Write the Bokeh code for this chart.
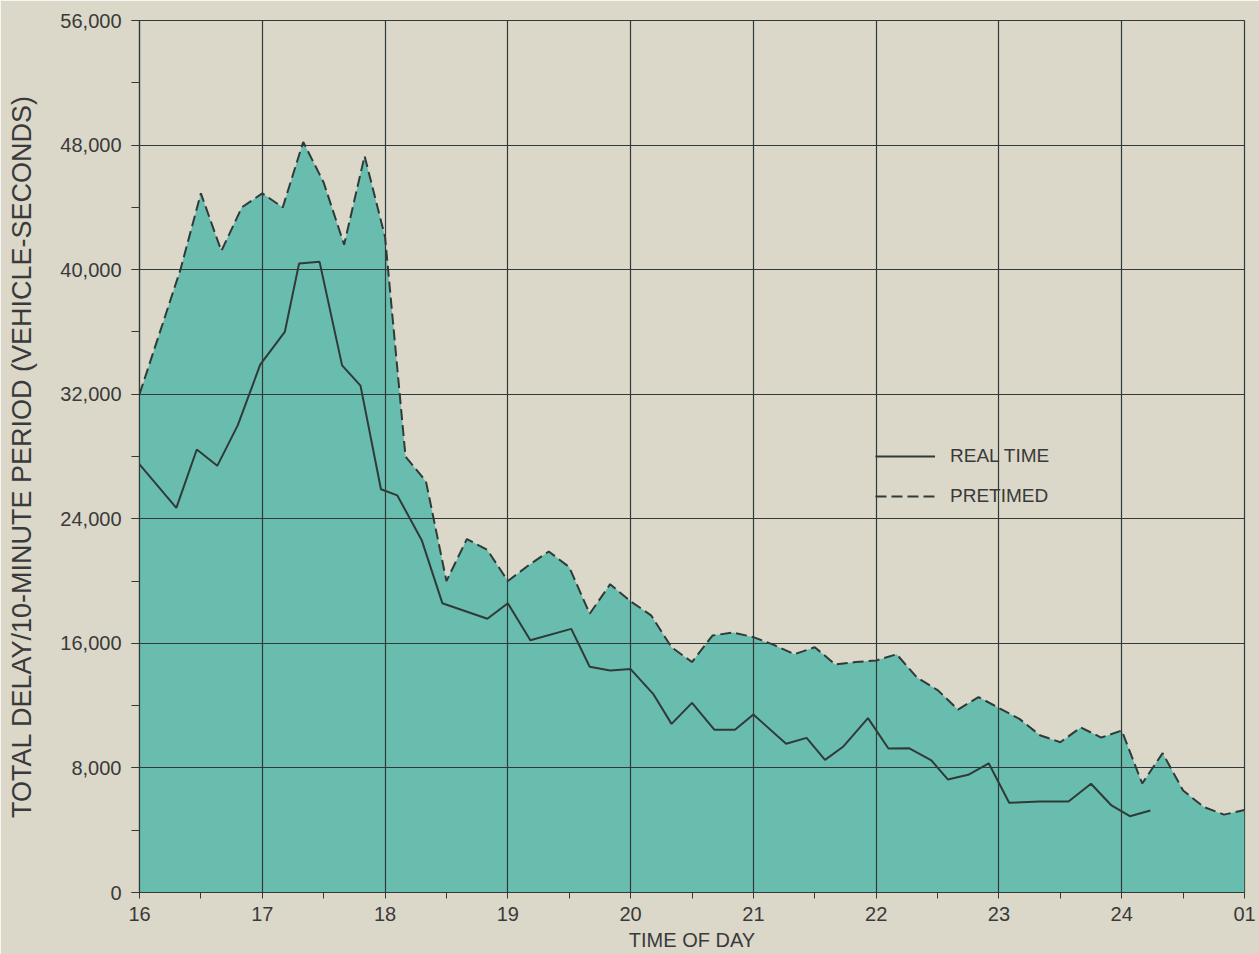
from bokeh.plotting import figure
from bokeh.models import SingleIntervalTicker, Legend, LegendItem, Range1d
from bokeh.embed import file_html
from bokeh.resources import INLINE

# Total delay per 10-minute period (vehicle-seconds), pretimed control,
# sampled every 10 minutes from 16:00 to 01:00
pretimed_delay = [
    32000, 36000, 40000, 44900, 41200, 44000, 44900, 44000, 48200, 45600,
    41600, 47300, 42100, 28000, 26400, 20000, 22700, 22000, 20000, 21000,
    21900, 20900, 17900, 19800, 18700, 17800, 15750, 14800, 16500, 16700,
    16400, 15900, 15300, 15750, 14650, 14800, 14900, 15300, 13800, 13000,
    11750, 12550, 11850, 11150, 10100, 9650, 10600, 9950, 10400, 7000,
    8950, 6550, 5500, 5000, 5300,
]
pretimed_minutes = list(range(0, 550, 10))

# Real-time control: minutes after 16:00 and total delay
realtime_minutes = [
    0, 18, 28, 38, 48, 59, 71, 78, 88, 99, 108, 118, 126, 138, 148, 170,
    180, 191, 211, 220, 230, 240, 251, 260, 270, 281, 291, 300, 316, 326,
    335, 344, 356, 366, 376, 387, 395, 405, 415, 425, 440, 454, 465, 475,
    484, 494,
]
realtime_delay = [
    27500, 24700, 28450, 27400, 30000, 33900, 36000, 40400, 40500, 33850,
    32550, 25900, 25500, 22600, 18580, 17580, 18580, 16200, 16930, 14500,
    14250, 14350, 12760, 10830, 12180, 10450, 10450, 11430, 9550, 9930,
    8520, 9380, 11200, 9250, 9270, 8480, 7260, 7560, 8300, 5760, 5850,
    5840, 6980, 5590, 4900, 5270,
]

hour_ticks = [16, 17, 18, 19, 20, 21, 22, 23, 24, 25]
hour_labels = ["16", "17", "18", "19", "20", "21", "22", "23", "24", "01"]

pretimed_t = [16 + m / 60 for m in pretimed_minutes]
realtime_t = [16 + m / 60 for m in realtime_minutes]

BG = "#dbd8c9"
FILL = "#68bdae"
INK = "#303a38"
TEXT = "#3a3a3a"
FONT = "Liberation Sans"

p = figure(width=1259, height=954, output_backend="svg",
           toolbar_location=None,
           x_range=Range1d(16, 25), y_range=Range1d(0, 56000),
           min_border_left=139, min_border_right=15,
           min_border_top=20, min_border_bottom=62)
p.background_fill_color = BG
p.border_fill_color = BG
p.outline_line_color = INK
p.outline_line_width = 1.2

# shaded area under the pretimed curve
p.varea(x=pretimed_t, y1=0, y2=pretimed_delay, fill_color=FILL,
        fill_alpha=1.0, level="image")

pre_line = p.line(pretimed_t, pretimed_delay, line_color=INK, line_width=2,
                  line_dash="11 5")
rt_line = p.line(realtime_t, realtime_delay, line_color=INK, line_width=2)

# axes
p.xaxis.ticker = SingleIntervalTicker(interval=1, num_minor_ticks=2)
p.xaxis.major_label_overrides = {t: s for t, s in zip(hour_ticks, hour_labels)}
p.xaxis.major_tick_out = 0
p.xaxis.major_tick_in = 0
p.xaxis.minor_tick_out = 6
p.xaxis.minor_tick_in = 0
p.xaxis.major_label_standoff = 8
p.xaxis.axis_label = "TIME OF DAY"
p.xaxis.axis_label_standoff = 5

p.yaxis.ticker = SingleIntervalTicker(interval=8000, num_minor_ticks=2)
p.yaxis.formatter.use_scientific = False
p.yaxis.major_label_overrides = {v: f"{v:,}" for v in range(0, 56001, 8000)}
p.yaxis.major_tick_out = 8
p.yaxis.major_tick_in = 0
p.yaxis.minor_tick_out = 8
p.yaxis.minor_tick_in = 0
p.yaxis.major_label_standoff = 10
p.yaxis.axis_label = "TOTAL DELAY/10-MINUTE PERIOD (VEHICLE-SECONDS)"
p.yaxis.axis_label_standoff = 20

for ax in (p.xaxis, p.yaxis):
    ax.axis_line_color = INK
    ax.axis_line_width = 1.2
    ax.major_tick_line_color = INK
    ax.minor_tick_line_color = INK
    ax.major_label_text_font = FONT
    ax.major_label_text_font_size = "20px"
    ax.major_label_text_color = TEXT
    ax.axis_label_text_font = FONT
    ax.axis_label_text_font_style = "normal"
    ax.axis_label_text_color = TEXT

p.xaxis.axis_label_text_font_size = "20px"
p.yaxis.axis_label_text_font_size = "27px"

p.xgrid.ticker = SingleIntervalTicker(interval=1)
p.ygrid.ticker = SingleIntervalTicker(interval=8000)
for g in (p.xgrid, p.ygrid):
    g.grid_line_color = INK
    g.grid_line_width = 1.2
    g.grid_line_alpha = 1.0
    g.level = "underlay"

legend = Legend(items=[LegendItem(label="REAL TIME", renderers=[rt_line]),
                       LegendItem(label="PRETIMED", renderers=[pre_line])],
                location=(736, 385), orientation="vertical",
                glyph_width=60, glyph_height=20, label_standoff=15,
                spacing=18, padding=0, margin=0,
                label_text_font=FONT, label_text_font_size="19px",
                label_text_color=TEXT,
                background_fill_alpha=0, border_line_alpha=0)
p.add_layout(legend)

open("out.html", "w").write(file_html(p, INLINE))
